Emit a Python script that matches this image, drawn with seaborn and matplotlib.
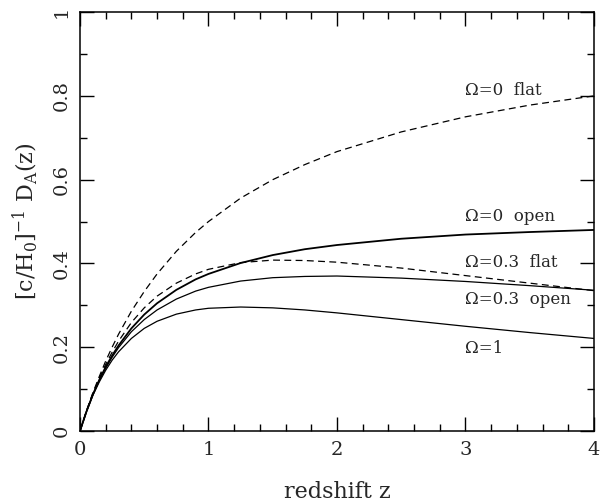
import pandas as pd
import matplotlib
matplotlib.use('Agg')
import matplotlib.pyplot as plt
import seaborn as sns
from matplotlib.ticker import MultipleLocator

sns.set_style("ticks")
plt.rcParams['font.family'] = ['DejaVu Serif']
plt.rcParams['mathtext.fontset'] = 'dejavuserif'

# redshift grid and D_A values
z = [0, 0.05, 0.1, 0.15, 0.2, 0.25, 0.3, 0.4, 0.5, 0.6, 0.75, 0.9, 1,
     1.25, 1.5, 1.75, 2, 2.5, 3, 3.5, 4]
da_flat0 = [0, 0.048, 0.091, 0.130, 0.167, 0.2, 0.231, 0.286, 0.333, 0.375, 0.429, 0.474, 0.5,
            0.556, 0.6, 0.636, 0.667, 0.714, 0.75, 0.778, 0.8]
da_open0 = [0, 0.046, 0.087, 0.122, 0.153, 0.18, 0.204, 0.245, 0.278, 0.305, 0.337, 0.362, 0.375,
            0.401, 0.42, 0.434, 0.444, 0.459, 0.469, 0.475, 0.48]
da_flat03 = [0, 0.047, 0.089, 0.126, 0.159, 0.188, 0.2145, 0.259, 0.294, 0.322, 0.353, 0.375, 0.386,
             0.402, 0.408, 0.407, 0.403, 0.389, 0.371, 0.353, 0.335]
da_open03 = [0, 0.046, 0.086, 0.121, 0.150, 0.176, 0.199, 0.237, 0.266, 0.289, 0.315, 0.334, 0.343,
             0.358, 0.366, 0.369, 0.370, 0.365, 0.357, 0.347, 0.336]
da_eds = [0, 0.046, 0.085, 0.117, 0.145, 0.169, 0.189, 0.221, 0.245, 0.262, 0.279, 0.289, 0.293,
          0.296, 0.294, 0.289, 0.282, 0.266, 0.25, 0.235, 0.221]

labels = ['Ω=0  flat', 'Ω=0  open', 'Ω=0.3  flat', 'Ω=0.3  open', 'Ω=1']
label_y = [0.814, 0.513, 0.403, 0.313, 0.198]

fig = plt.figure(figsize=(6, 5.04), dpi=100)
ax = fig.add_axes([0.1333, 0.1448, 0.8567, 0.8312])

sns.lineplot(x=z, y=da_flat0, ax=ax, color='black', lw=0.9, linestyle=(0, (5.5, 3.5)))
sns.lineplot(x=z, y=da_open0, ax=ax, color='black', lw=1.3)
sns.lineplot(x=z, y=da_flat03, ax=ax, color='black', lw=0.9, linestyle=(0, (5.5, 3.5)))
sns.lineplot(x=z, y=da_open03, ax=ax, color='black', lw=0.9)
sns.lineplot(x=z, y=da_eds, ax=ax, color='black', lw=0.9)

for lab, yy in zip(labels, label_y):
    ax.text(3.0, yy, lab, fontsize=12, va='center', ha='left')

ax.set_xlim(0, 4)
ax.set_ylim(0, 1)
ax.set_xticks([0, 1, 2, 3, 4])
ax.set_xticklabels(['0', '1', '2', '3', '4'])
ax.xaxis.set_minor_locator(MultipleLocator(0.2))
ax.set_yticks([0, 0.2, 0.4, 0.6, 0.8, 1])
ax.set_yticklabels(['0', '0.2', '0.4', '0.6', '0.8', '1'], rotation=90, va='center')
ax.yaxis.set_minor_locator(MultipleLocator(0.1))
ax.tick_params(which='both', direction='in', top=True, right=True, width=1, color='black')
ax.tick_params(which='major', length=10, labelsize=14, pad=7)
ax.tick_params(which='minor', length=5)
for s in ax.spines.values():
    s.set_linewidth(1.1)
    s.set_color('black')

ax.set_xlabel('redshift z', fontsize=16, labelpad=16)
ax.set_ylabel(r'[c/H$_0$]$^{-1}$ D$_\mathrm{A}$(z)', fontsize=16, labelpad=9)

fig.savefig('out.png', dpi=100)
